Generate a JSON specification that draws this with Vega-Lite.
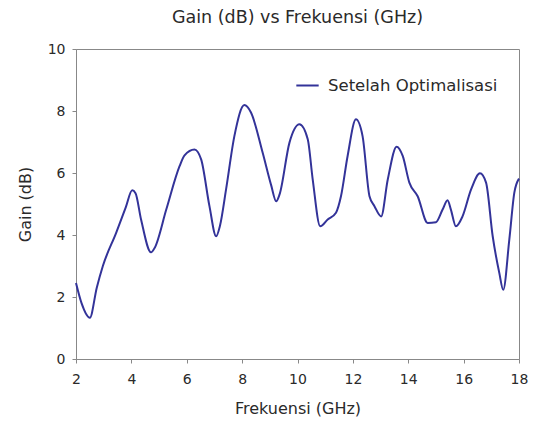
{
  "$schema": "https://vega.github.io/schema/vega-lite/v6.json",
  "width": 443,
  "height": 310,
  "autosize": {"type": "none"},
  "padding": {"left": 76, "top": 49, "right": 15, "bottom": 64},
  "background": "white",
  "title": {
    "text": "Gain (dB) vs Frekuensi (GHz)",
    "font": "DejaVu Sans",
    "fontSize": 17.5,
    "fontWeight": "normal",
    "color": "#2a2a2a",
    "anchor": "middle",
    "offset": 16
  },
  "config": {
    "view": {"stroke": "#888", "strokeWidth": 1},
    "axis": {
      "labelFont": "DejaVu Sans",
      "titleFont": "DejaVu Sans",
      "labelFontSize": 14,
      "titleFontSize": 16,
      "titleFontWeight": "normal",
      "labelColor": "#2a2a2a",
      "titleColor": "#2a2a2a",
      "domainColor": "#888",
      "tickColor": "#888",
      "tickSize": 4,
      "grid": false
    },
    "legend": {
      "labelFont": "DejaVu Sans",
      "labelFontSize": 16.5,
      "labelColor": "#2a2a2a",
      "labelLimit": 400
    }
  },
  "data": {
    "values": [
      {"f": 2.0, "g": 2.45, "s": "Setelah Optimalisasi"},
      {"f": 2.2, "g": 1.8, "s": "Setelah Optimalisasi"},
      {"f": 2.5, "g": 1.33, "s": "Setelah Optimalisasi"},
      {"f": 2.75, "g": 2.3, "s": "Setelah Optimalisasi"},
      {"f": 2.97, "g": 3.0, "s": "Setelah Optimalisasi"},
      {"f": 3.45, "g": 4.07, "s": "Setelah Optimalisasi"},
      {"f": 3.8, "g": 4.9, "s": "Setelah Optimalisasi"},
      {"f": 4.03, "g": 5.44, "s": "Setelah Optimalisasi"},
      {"f": 4.15, "g": 5.35, "s": "Setelah Optimalisasi"},
      {"f": 4.35, "g": 4.5, "s": "Setelah Optimalisasi"},
      {"f": 4.71, "g": 3.44, "s": "Setelah Optimalisasi"},
      {"f": 4.85, "g": 3.6, "s": "Setelah Optimalisasi"},
      {"f": 5.26, "g": 4.82, "s": "Setelah Optimalisasi"},
      {"f": 5.74, "g": 6.22, "s": "Setelah Optimalisasi"},
      {"f": 5.92, "g": 6.57, "s": "Setelah Optimalisasi"},
      {"f": 6.28, "g": 6.76, "s": "Setelah Optimalisasi"},
      {"f": 6.52, "g": 6.44, "s": "Setelah Optimalisasi"},
      {"f": 6.82, "g": 4.93, "s": "Setelah Optimalisasi"},
      {"f": 7.06, "g": 3.96, "s": "Setelah Optimalisasi"},
      {"f": 7.2, "g": 4.3, "s": "Setelah Optimalisasi"},
      {"f": 7.42, "g": 5.47, "s": "Setelah Optimalisasi"},
      {"f": 7.72, "g": 7.19, "s": "Setelah Optimalisasi"},
      {"f": 8.08, "g": 8.19, "s": "Setelah Optimalisasi"},
      {"f": 8.32, "g": 7.95, "s": "Setelah Optimalisasi"},
      {"f": 8.74, "g": 6.66, "s": "Setelah Optimalisasi"},
      {"f": 9.05, "g": 5.6, "s": "Setelah Optimalisasi"},
      {"f": 9.23, "g": 5.09, "s": "Setelah Optimalisasi"},
      {"f": 9.35, "g": 5.3, "s": "Setelah Optimalisasi"},
      {"f": 9.71, "g": 6.98, "s": "Setelah Optimalisasi"},
      {"f": 10.07, "g": 7.57, "s": "Setelah Optimalisasi"},
      {"f": 10.37, "g": 7.09, "s": "Setelah Optimalisasi"},
      {"f": 10.55, "g": 5.79, "s": "Setelah Optimalisasi"},
      {"f": 10.82, "g": 4.28, "s": "Setelah Optimalisasi"},
      {"f": 11.09, "g": 4.5, "s": "Setelah Optimalisasi"},
      {"f": 11.39, "g": 4.72, "s": "Setelah Optimalisasi"},
      {"f": 11.57, "g": 5.25, "s": "Setelah Optimalisasi"},
      {"f": 11.81, "g": 6.55, "s": "Setelah Optimalisasi"},
      {"f": 12.11, "g": 7.73, "s": "Setelah Optimalisasi"},
      {"f": 12.35, "g": 7.19, "s": "Setelah Optimalisasi"},
      {"f": 12.6, "g": 5.25, "s": "Setelah Optimalisasi"},
      {"f": 12.78, "g": 4.93, "s": "Setelah Optimalisasi"},
      {"f": 13.02, "g": 4.6, "s": "Setelah Optimalisasi"},
      {"f": 13.26, "g": 5.79, "s": "Setelah Optimalisasi"},
      {"f": 13.58, "g": 6.85, "s": "Setelah Optimalisasi"},
      {"f": 13.8, "g": 6.55, "s": "Setelah Optimalisasi"},
      {"f": 14.04, "g": 5.69, "s": "Setelah Optimalisasi"},
      {"f": 14.34, "g": 5.25, "s": "Setelah Optimalisasi"},
      {"f": 14.7, "g": 4.39, "s": "Setelah Optimalisasi"},
      {"f": 15.0, "g": 4.41, "s": "Setelah Optimalisasi"},
      {"f": 15.24, "g": 4.82, "s": "Setelah Optimalisasi"},
      {"f": 15.42, "g": 5.12, "s": "Setelah Optimalisasi"},
      {"f": 15.54, "g": 4.82, "s": "Setelah Optimalisasi"},
      {"f": 15.72, "g": 4.28, "s": "Setelah Optimalisasi"},
      {"f": 15.96, "g": 4.6, "s": "Setelah Optimalisasi"},
      {"f": 16.27, "g": 5.47, "s": "Setelah Optimalisasi"},
      {"f": 16.59, "g": 5.99, "s": "Setelah Optimalisasi"},
      {"f": 16.81, "g": 5.69, "s": "Setelah Optimalisasi"},
      {"f": 17.05, "g": 3.96, "s": "Setelah Optimalisasi"},
      {"f": 17.29, "g": 2.77, "s": "Setelah Optimalisasi"},
      {"f": 17.43, "g": 2.23, "s": "Setelah Optimalisasi"},
      {"f": 17.65, "g": 3.85, "s": "Setelah Optimalisasi"},
      {"f": 17.83, "g": 5.36, "s": "Setelah Optimalisasi"},
      {"f": 18.0, "g": 5.82, "s": "Setelah Optimalisasi"}
    ]
  },
  "mark": {"type": "line", "interpolate": "monotone", "strokeWidth": 2},
  "encoding": {
    "x": {
      "field": "f",
      "type": "quantitative",
      "scale": {"domain": [2, 18], "nice": false, "zero": false},
      "axis": {"values": [2, 4, 6, 8, 10, 12, 14, 16, 18], "title": "Frekuensi (GHz)", "labelPadding": 9, "titlePadding": 14, "labelFlush": false}
    },
    "y": {
      "field": "g",
      "type": "quantitative",
      "scale": {"domain": [0, 10], "nice": false},
      "axis": {"values": [0, 2, 4, 6, 8, 10], "title": "Gain (dB)", "labelPadding": 7, "titlePadding": 14}
    },
    "color": {
      "field": "s",
      "type": "nominal",
      "scale": {"range": ["#333399"]},
      "legend": {
        "title": null,
        "orient": "none",
        "legendX": 219,
        "legendY": 24,
        "padding": 0,
        "symbolType": "stroke",
        "symbolSize": 500,
        "symbolStrokeWidth": 2,
        "labelOffset": 8,
        "labelLimit": 400
      }
    }
  }
}
